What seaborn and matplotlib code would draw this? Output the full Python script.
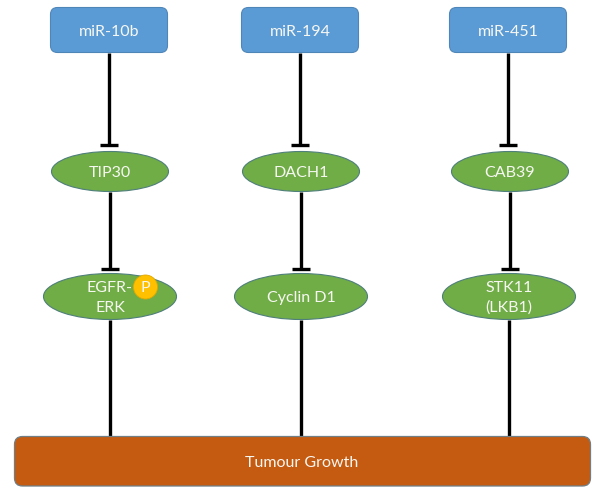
import matplotlib
matplotlib.use("Agg")
import matplotlib.pyplot as plt
import pandas as pd
import seaborn as sns
from matplotlib.patches import Circle, Ellipse, FancyBboxPatch

# Diagram content
mirnas = ["miR-10b", "miR-194", "miR-451"]
targets = ["TIP30", "DACH1", "CAB39"]
effectors = ["EGFR-\nERK", "Cyclin D1", "STK11\n(LKB1)"]
outcome = "Tumour Growth"
phospho = "P"

# Pixel layout
box_centers = [109, 300, 508]
upper_centers = [110, 301, 510]
lower_centers = [110, 301, 509]

BLUE = "#5B9BD5"
GREEN = "#70AD47"
ORANGE = "#C55A11"
AMBER = "#FFC000"
TEXT = "#F7F7F2"
FONT_SIZE = 11.5

sns.set_theme(style="white")
plt.rcParams["font.family"] = ["Lato", "DejaVu Sans"]

fig, ax = plt.subplots(figsize=(6.10, 5.02), dpi=100)
ax.set_position([0, 0, 1, 1])


def connector(x, y0, y1, ax):
    df = pd.DataFrame({"x": [x, x], "y": [y0, y1]})
    sns.lineplot(data=df, x="x", y="y", ax=ax, color="black", linewidth=2.4,
                 estimator=None, sort=False, solid_capstyle="butt", zorder=1)


def tee(x, y, ax):
    df = pd.DataFrame({"x": [x - 9, x + 9], "y": [y, y]})
    sns.lineplot(data=df, x="x", y="y", ax=ax, color="black", linewidth=2.4,
                 estimator=None, sort=False, solid_capstyle="butt", zorder=1)


for i in range(3):
    bx, ux, lx = box_centers[i], upper_centers[i], lower_centers[i]

    connector(bx, 54, 146, ax)
    tee(bx, 146, ax)
    connector(ux, 193, 270, ax)
    tee(ux, 270, ax)
    connector(lx, 321, 438, ax)

    # Blue source box
    ax.add_patch(FancyBboxPatch((bx - 53, 14), 106, 34, boxstyle="round,pad=5.5,rounding_size=7",
                                fc=BLUE, ec="#4F86B8", lw=0.8, zorder=2))
    ax.text(bx, 32, mirnas[i], color=TEXT, fontsize=FONT_SIZE, ha="center", va="center", zorder=3)

    # Green target and effector ellipses
    ax.add_patch(Ellipse((ux, 172.5), 117, 40, fc=GREEN, ec="#4F7F7A", lw=0.8, zorder=2))
    ax.text(ux, 173, targets[i], color=TEXT, fontsize=FONT_SIZE, ha="center", va="center", zorder=3)

    ax.add_patch(Ellipse((lx, 297.5), 133, 46, fc=GREEN, ec="#4F7F7A", lw=0.8, zorder=2))
    ax.text(lx, 298, effectors[i], color=TEXT, fontsize=FONT_SIZE, ha="center", va="center",
            linespacing=1.5, zorder=3)

# Phosphate marker on EGFR-ERK
ax.add_patch(Circle((145.5, 288), 12, fc=AMBER, ec="#E0A800", lw=0.6, zorder=4))
ax.text(145.5, 288.5, phospho, color=TEXT, fontsize=FONT_SIZE, ha="center", va="center", zorder=5)

# Outcome bar
ax.add_patch(FancyBboxPatch((21, 444), 563, 36.5, boxstyle="round,pad=6.5,rounding_size=8",
                            fc=ORANGE, ec="#6F7F85", lw=0.9, zorder=2))
ax.text(302, 463, outcome, color=TEXT, fontsize=FONT_SIZE, ha="center", va="center", zorder=3)

ax.set_xlim(0, 610)
ax.set_ylim(502, 0)
ax.axis("off")

fig.savefig("out.png", dpi=100, facecolor="white")
